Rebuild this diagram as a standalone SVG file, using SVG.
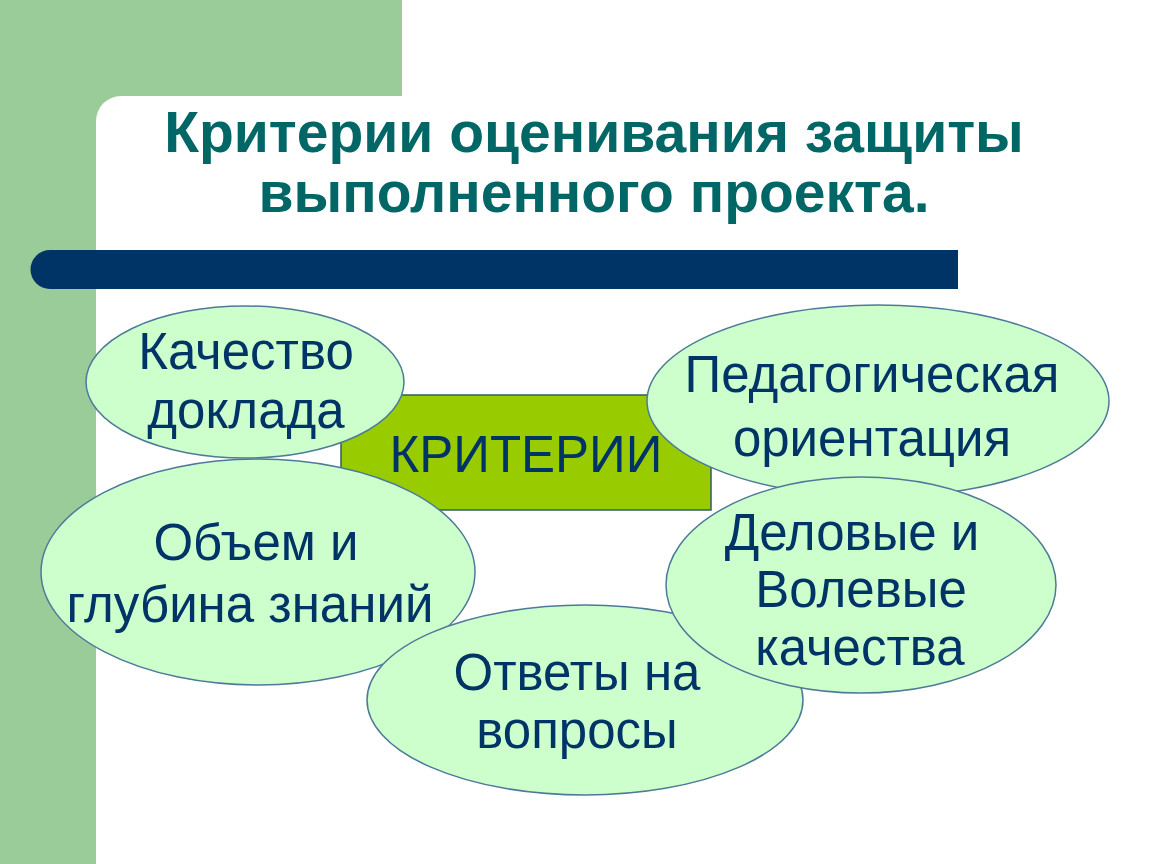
<svg xmlns="http://www.w3.org/2000/svg" width="1150" height="864" viewBox="0 0 1150 864">
<style>
.bg{fill:#99cc99}
.oval{fill:#ccffcc;stroke:#4d7a99;stroke-width:1.5}
.t{font-family:"Liberation Sans",Arial,sans-serif;font-size:51px;fill:#003366;text-anchor:middle}
.title{font-family:"Liberation Sans",Arial,sans-serif;font-size:57px;font-weight:bold;fill:#006666;text-anchor:middle}
</style>
<rect width="1150" height="864" fill="#ffffff"/>
<path class="bg" d="M0 0H402V96H121A25 25 0 0 0 96 121V864H0Z"/>
<g id="title">
<text class="title" x="594" y="152">Критерии оценивания защиты</text>
<text class="title" x="594" y="212">выполненного проекта.</text>
</g>
<path id="bar" d="M50 250H958V289H50A19.5 19.5 0 0 1 50 250Z" fill="#003366"/>
<g id="connectors"></g>
<g id="center">
<rect x="341" y="395" width="370" height="115" fill="#99cc00" stroke="#2d5f5f" stroke-width="1.5"/>
<text class="t" x="526" y="472">КРИТЕРИИ</text>
</g>
<g id="n1">
<ellipse class="oval" cx="245" cy="382" rx="159" ry="76"/>
<text class="t" x="246" y="369">Качество</text>
<text class="t" x="246" y="428">доклада</text>
</g>
<g id="n2">
<ellipse class="oval" cx="878" cy="401" rx="231" ry="96"/>
<text class="t" x="872" y="392">Педагогическая</text>
<text class="t" x="872" y="456">ориентация</text>
</g>
<g id="n3">
<ellipse class="oval" cx="258" cy="572" rx="217" ry="113"/>
<text class="t" x="256" y="560">Объем и</text>
<text class="t" x="250" y="622">глубина знаний</text>
</g>
<g id="n5">
<ellipse class="oval" cx="585" cy="700" rx="218" ry="95"/>
<text class="t" x="577" y="690">Ответы на</text>
<text class="t" x="577" y="748">вопросы</text>
</g>
<g id="n4">
<ellipse class="oval" cx="861" cy="585" rx="195" ry="108"/>
<text class="t" x="852" y="550">Деловые и</text>
<text class="t" x="861" y="607">Волевые</text>
<text class="t" x="860" y="665">качества</text>
</g>
</svg>
